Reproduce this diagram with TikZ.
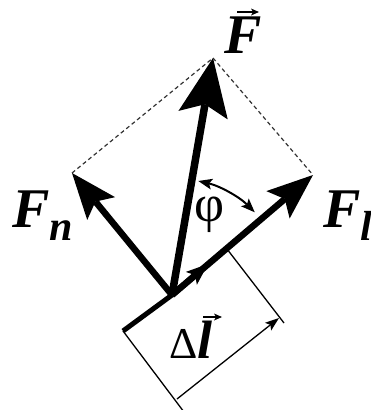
\documentclass[tikz,border=0pt]{standalone}
\usepackage{fontspec}
\setmainfont{Liberation Serif}
\usetikzlibrary{arrows.meta}
\begin{document}
\begin{tikzpicture}[x=1pt,y=-1pt,
  lab/.style={inner sep=0pt, font=\fontsize{56}{56}\selectfont\bfseries\itshape},
  force/.style={line width=6.5pt,-{Stealth[length=46pt,width=36pt,inset=9pt,line width=0pt]}},
  bigforce/.style={line width=7.5pt,-{Stealth[length=58pt,width=50pt,inset=11pt,line width=0pt]}},
  guide/.style={line width=1.2pt, dash pattern=on 4pt off 3pt, black!80},
  thin/.style={line width=1.3pt},
  dim/.style={line width=1.3pt,-{Stealth[length=14pt,width=10pt,inset=3pt,line width=0pt]}},
  anglearrow/.style={line width=2pt,{Stealth[length=14pt,width=11pt,inset=3pt,line width=0pt]}-{Stealth[length=14pt,width=11pt,inset=3pt,line width=0pt]}},
  accent/.style={line width=1.3pt,-{Stealth[length=8pt,width=7pt,inset=2pt,line width=0pt]}}
]
\useasboundingbox (0,0) rectangle (371,410);
\coordinate (O) at (172,295);
\coordinate (Ft) at (213,58);
\coordinate (Fnt) at (72,173);
\coordinate (Flt) at (313,175);
\coordinate (A) at (123,331);
\coordinate (B) at (227,249);
\coordinate (dl) at (208,264);
\coordinate (Ae) at (184,412);
\coordinate (Be) at (284,323);
\coordinate (D1) at (177,399);
\coordinate (D2) at (279,318);

\draw[guide] (Fnt) -- (Ft) -- (Flt);
\draw[thin] (A) -- (Ae);
\draw[thin] (B) -- (Be);
\draw[dim] (D1) -- (D2);
\draw[line width=5pt] (A) -- (O);
\draw[force] (O) -- (Fnt);
\draw[force] (O) -- (Flt);
\draw[bigforce] (O) -- (Ft);
\draw[line width=6pt,-{Stealth[length=22pt,width=17pt,inset=5pt,line width=0pt]}] (O) -- (dl);
\draw[anglearrow] (O) ++(-77:117) arc[start angle=-77,end angle=-45,radius=117];

\node[lab, anchor=base west] (Fvec) at (224,53) {F};
\draw[accent] ([shift={(13,-41)}]Fvec.base west) -- ++(22,0);
\node[lab, anchor=base west] (Fn) at (12,227) {F\raisebox{-13pt}{\fontsize{42}{42}\selectfont n}};
\node[lab, anchor=base west] (Fl) at (323,227) {F\raisebox{-13pt}{\fontsize{42}{42}\selectfont l}};
\node[inner sep=0pt, anchor=base west, font=\fontsize{44}{44}\selectfont] (dlab) at (169,358) {Δ\fontsize{54}{54}\selectfont\bfseries\itshape l};
\draw[accent] ([shift={(34,-41)}]dlab.base west) -- ++(19,0);
\node[inner sep=0pt, font=\fontsize{52}{52}\selectfont] (phi) at (210,215) {φ};
\end{tikzpicture}
\end{document}
